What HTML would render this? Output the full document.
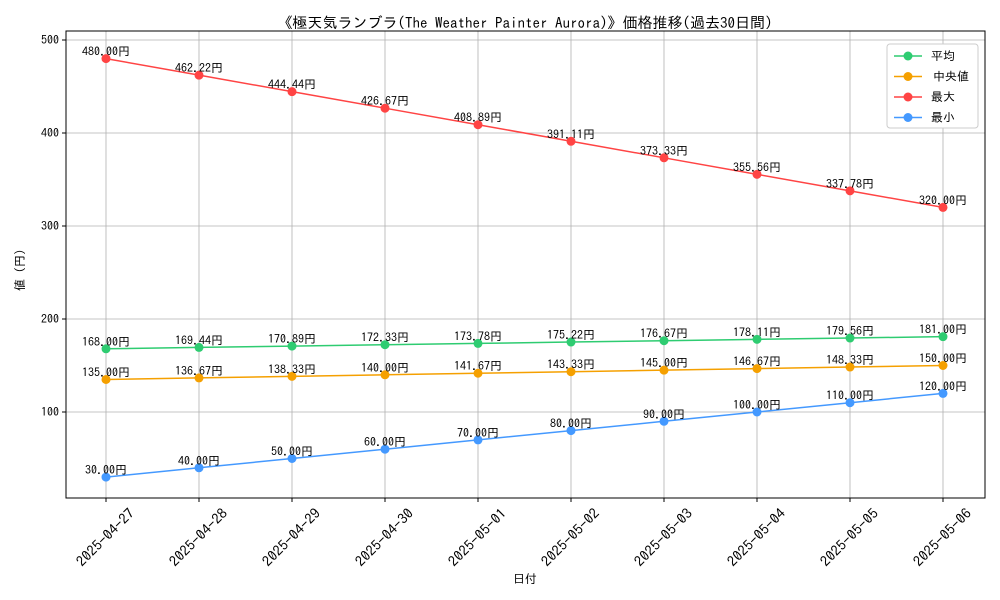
<!DOCTYPE html>
<html><head><meta charset="utf-8"><style>
body{margin:0;background:#fff;}
svg{display:block;font-family:"IPAGothic","Noto Sans CJK JP",monospace;}
</style></head><body>
<svg id="chart" width="1000" height="600" xmlns="http://www.w3.org/2000/svg">
<rect width="1000" height="600" fill="#fff"/>
<text x="525" y="28" text-anchor="middle" font-size="15">《極天気ランブラ(The Weather Painter Aurora)》価格推移(過去30日間)</text>
<g id="grid"></g>
<rect x="66" y="31" width="919" height="467" fill="none" stroke="#000" stroke-width="1"/>
<g id="axes"></g>
<g id="series"></g>
<text x="525" y="583" text-anchor="middle" font-size="12">日付</text>
<text x="24" y="270" text-anchor="middle" font-size="12" transform="rotate(-90 24 270)">値 (円)</text>
<g id="legend"></g>
</svg>
<script>
const categories=["2025-04-27","2025-04-28","2025-04-29","2025-04-30","2025-05-01","2025-05-02","2025-05-03","2025-05-04","2025-05-05","2025-05-06"];
const avgValues=[168.00,169.44,170.89,172.33,173.78,175.22,176.67,178.11,179.56,181.00];
const medianValues=[135.00,136.67,138.33,140.00,141.67,143.33,145.00,146.67,148.33,150.00];
const maxValues=[480.00,462.22,444.44,426.67,408.89,391.11,373.33,355.56,337.78,320.00];
const minValues=[30.00,40.00,50.00,60.00,70.00,80.00,90.00,100.00,110.00,120.00];
const yTicks=[100,200,300,400,500];
const seriesNames=["平均","中央値","最大","最小"];
const NS="http://www.w3.org/2000/svg";
const xS=i=>106+i*(943-106)/(categories.length-1);
const yS=v=>412-(v-100)*0.93;
function mk(tag,attrs,parent){const e=document.createElementNS(NS,tag);for(const k in attrs)e.setAttribute(k,attrs[k]);parent.appendChild(e);return e;}
const grid=document.getElementById('grid'),axes=document.getElementById('axes'),ser=document.getElementById('series'),leg=document.getElementById('legend');
categories.forEach((c,i)=>{
 const l=mk('line',{x1:xS(i),x2:xS(i),y1:31,y2:498,stroke:'#b0b0b0','stroke-width':0.8},grid);
 
 
 mk('line',{x1:xS(i),x2:xS(i),y1:498,y2:502,stroke:'#000'},axes);
 const cx=xS(i), cy=542;
 const t=mk('text',{x:cx,y:cy,'font-size':14,'text-anchor':'middle',textLength:75,lengthAdjust:'spacingAndGlyphs',transform:`rotate(-45 ${cx} ${cy-4})`},axes);
 
 
 t.textContent=c;
});
yTicks.forEach(v=>{
 const l=mk('line',{x1:66,x2:985,y1:yS(v),y2:yS(v),stroke:'#b0b0b0','stroke-width':0.8},grid);
 
 
 mk('line',{x1:62,x2:66,y1:yS(v),y2:yS(v),stroke:'#000'},axes);
 const t=mk('text',{x:59,y:yS(v)+4,'font-size':12,'text-anchor':'end'},axes);
 
 
 t.textContent=v;
});
const all=[[avgValues,'#2ecc71'],[medianValues,'#f5a000'],[maxValues,'#ff4444'],[minValues,'#4499ff']];
all.forEach(([vals,col],si)=>{
 const g=mk('g',{},ser);
 
 
 const p=mk('polyline',{points:vals.map((v,i)=>xS(i)+','+yS(v)).join(' '),fill:'none',stroke:col,'stroke-width':1.5},g);
 
 
 vals.forEach((v,i)=>{
  const c=mk('circle',{cx:xS(i),cy:yS(v),r:4.5,fill:col},g);
  
  
  const t=mk('text',{x:xS(i),y:yS(v)-3,'font-size':12,'text-anchor':'middle'},g);
  
  
  t.textContent=v.toFixed(2)+'円';
 });
});
mk('rect',{x:887,y:44,width:91,height:84,fill:'#fff',stroke:'#ccc',rx:3},leg);
all.forEach(([v,col],si)=>{
 const y=56+si*20.5;
 const g=mk('g',{},leg);
 
 
 mk('line',{x1:894,x2:922,y1:y,y2:y,stroke:col,'stroke-width':1.5},g);
 mk('circle',{cx:908,cy:y,r:4.5,fill:col},g);
 const t=mk('text',{x:si==1?933:931,y:y+4,'font-size':12},g);
 t.textContent=seriesNames[si];
});
</script>
</body></html>
